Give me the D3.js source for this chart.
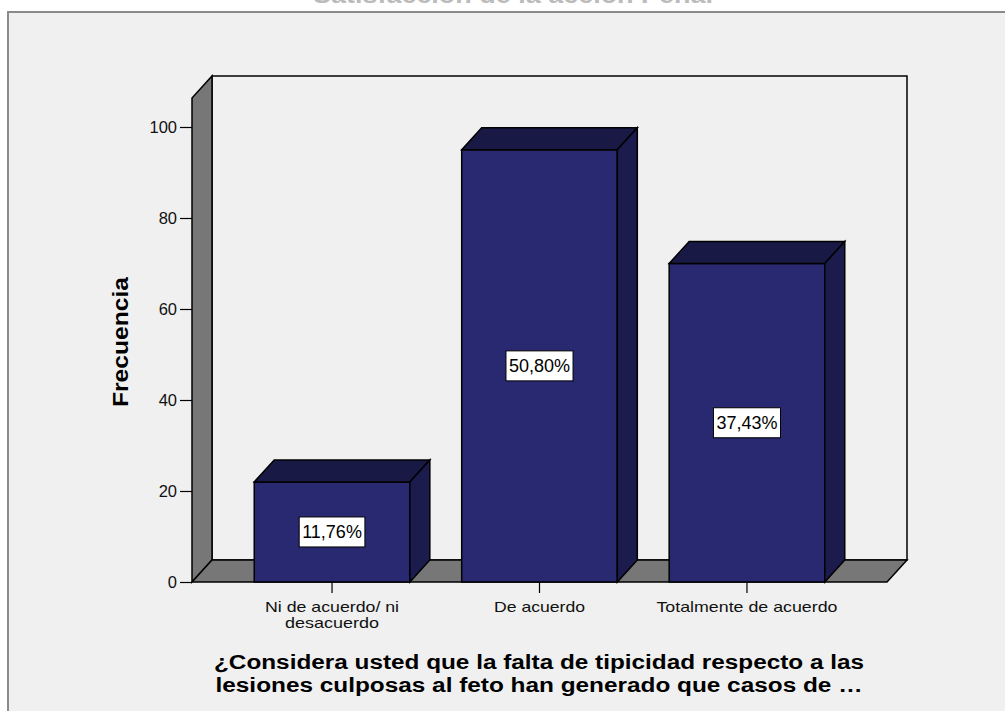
<!DOCTYPE html>
<html>
<head>
<meta charset="utf-8">
<script src="https://cdn.jsdelivr.net/npm/d3@7"></script>
<style>
  body { margin: 0; background: #fff; }
  text { font-family: Arial, "Liberation Sans", sans-serif; }
</style>
</head>
<body>
<div id="chart"></div>
<script>
// data (total 187 answers)
const categories = ["Ni de acuerdo/ ni desacuerdo", "De acuerdo", "Totalmente de acuerdo"];
const categoryLines = [["Ni de acuerdo/ ni", "desacuerdo"], ["De acuerdo"], ["Totalmente de acuerdo"]];
const frequencies = [22, 95, 70];
const percentLabels = ["11,76%", "50,80%", "37,43%"];
const yTicks = [0, 20, 40, 60, 80, 100];
const titleText = "Satisfacción de la acción Penal";
const xTitleLines = ["¿Considera usted que la falta de tipicidad respecto a las",
                     "lesiones culposas al feto han generado que casos de …"];

let svgWidth = 1005;
let svgHeight = 711;

// plot front area + 3d depth
let plotLeft = 192, plotRight = 887, plotBottom = 582, plotTop = 98;
let dx = 20, dy = -22;

let svg = d3.select("#chart")
    .append("svg")
    .attr("width", svgWidth)
    .attr("height", svgHeight);

// chart title, mostly cut off above the frame
svg.append("text")
    .attr("x", 513)
    .attr("y", 3)
    .attr("text-anchor", "middle")
    .attr("font-size", 24)
    .attr("font-weight", "bold")
    .attr("fill", "#bbb")
    .attr("textLength", 400)
    .attr("lengthAdjust", "spacingAndGlyphs")
    .text(titleText);

// outer frame
svg.append("rect")
    .attr("x", 8)
    .attr("y", 12)
    .attr("width", 1010)
    .attr("height", 720)
    .attr("fill", "#f0f0f0")
    .attr("stroke", "#8a8a8a")
    .attr("stroke-width", 2);

let yScale = d3.scaleLinear()
    .domain([0, 100])
    .range([plotBottom, 127]);

let xScale = d3.scaleBand()
    .domain(categories)
    .range([plotLeft, plotRight])
    .paddingInner(0.25)
    .paddingOuter(0.3);

let pts = a => a.map(p => p.join(",")).join(" ");

// back wall
svg.append("rect")
    .attr("x", plotLeft + dx)
    .attr("y", plotTop + dy)
    .attr("width", plotRight - plotLeft)
    .attr("height", plotBottom - plotTop)
    .attr("fill", "#f0f0f0")
    .attr("stroke", "#000")
    .attr("stroke-width", 1.5);

// left wall
svg.append("polygon")
    .attr("points", pts([[plotLeft, plotBottom], [plotLeft + dx, plotBottom + dy], [plotLeft + dx, plotTop + dy], [plotLeft, plotTop]]))
    .attr("fill", "#777")
    .attr("stroke", "#000")
    .attr("stroke-width", 1.5);

// floor
svg.append("polygon")
    .attr("points", pts([[plotLeft, plotBottom], [plotRight, plotBottom], [plotRight + dx, plotBottom + dy], [plotLeft + dx, plotBottom + dy]]))
    .attr("fill", "#777")
    .attr("stroke", "#000")
    .attr("stroke-width", 1.5);

// y axis
let leftAxis = d3.axisLeft(yScale)
    .tickValues(yTicks)
    .tickSize(12)
    .tickPadding(3);

let yAxisG = svg.append("g")
    .attr("transform", `translate(${plotLeft}, 0)`)
    .call(leftAxis);
yAxisG.select(".domain").remove();
yAxisG.selectAll("line").attr("stroke", "#000").attr("stroke-width", 1.2);
yAxisG.selectAll("text")
    .attr("font-size", 16.5)
    .attr("fill", "#111")
    .style("font-family", "Arial, 'Liberation Sans', sans-serif");

// bars
let bars = svg.selectAll(".bar")
    .data(categories)
    .join("g")
    .attr("class", "bar");

bars.each(function (c, i) {
    let g = d3.select(this);
    let x = xScale(c), w = xScale.bandwidth(), yv = yScale(frequencies[i]);
    g.append("rect")
        .attr("x", x)
        .attr("y", yv)
        .attr("width", w)
        .attr("height", plotBottom - yv)
        .attr("fill", "#292971")
        .attr("stroke", "#000")
        .attr("stroke-width", 1.5);
    g.append("polygon")
        .attr("points", pts([[x, yv], [x + dx, yv + dy], [x + w + dx, yv + dy], [x + w, yv]]))
        .attr("fill", "#191945")
        .attr("stroke", "#000")
        .attr("stroke-width", 1.5);
    g.append("polygon")
        .attr("points", pts([[x + w, yv], [x + w + dx, yv + dy], [x + w + dx, plotBottom + dy], [x + w, plotBottom]]))
        .attr("fill", "#1b1b4e")
        .attr("stroke", "#000")
        .attr("stroke-width", 1.5);

    // percent label in a white box
    let cy = (yv + plotBottom) / 2;
    let lab = g.append("g");
    let box = lab.append("rect");
    let t = lab.append("text")
        .attr("x", x + w / 2)
        .attr("y", cy)
        .attr("dy", "0.36em")
        .attr("text-anchor", "middle")
        .attr("font-size", 18)
        .attr("fill", "#000")
        .text(percentLabels[i]);
    let bb = t.node().getBBox();
    box.attr("x", bb.x - 3)
        .attr("y", cy - 15)
        .attr("width", bb.width + 6)
        .attr("height", 30)
        .attr("fill", "#fff")
        .attr("stroke", "#000")
        .attr("stroke-width", 1);
});

// x ticks and labels
const catWidths = [[134, 94], [91], [181]];
categories.forEach((c, i) => {
    let cx = xScale(c) + xScale.bandwidth() / 2;
    svg.append("line")
        .attr("x1", cx).attr("x2", cx)
        .attr("y1", plotBottom).attr("y2", plotBottom + 11)
        .attr("stroke", "#000")
        .attr("stroke-width", 1.2);
    categoryLines[i].forEach((line, k) => {
        svg.append("text")
            .attr("x", cx)
            .attr("y", 612 + k * 16)
            .attr("text-anchor", "middle")
            .attr("font-size", 14.5)
            .attr("fill", "#111")
            .attr("textLength", catWidths[i][k])
            .attr("lengthAdjust", "spacingAndGlyphs")
            .text(line);
    });
});

// y axis title
svg.append("text")
    .attr("transform", "rotate(-90)")
    .attr("x", -342)
    .attr("y", 128)
    .attr("text-anchor", "middle")
    .attr("font-size", 22)
    .attr("font-weight", "bold")
    .attr("fill", "#000")
    .attr("textLength", 130)
    .attr("lengthAdjust", "spacingAndGlyphs")
    .text("Frecuencia");

// x axis title
const xTitleWidths = [650, 647];
xTitleLines.forEach((line, k) => {
    svg.append("text")
        .attr("x", 539)
        .attr("y", 669 + k * 23)
        .attr("text-anchor", "middle")
        .attr("font-size", 20)
        .attr("font-weight", "bold")
        .attr("fill", "#000")
        .attr("textLength", xTitleWidths[k])
        .attr("lengthAdjust", "spacingAndGlyphs")
        .text(line);
});
</script>
</body>
</html>
